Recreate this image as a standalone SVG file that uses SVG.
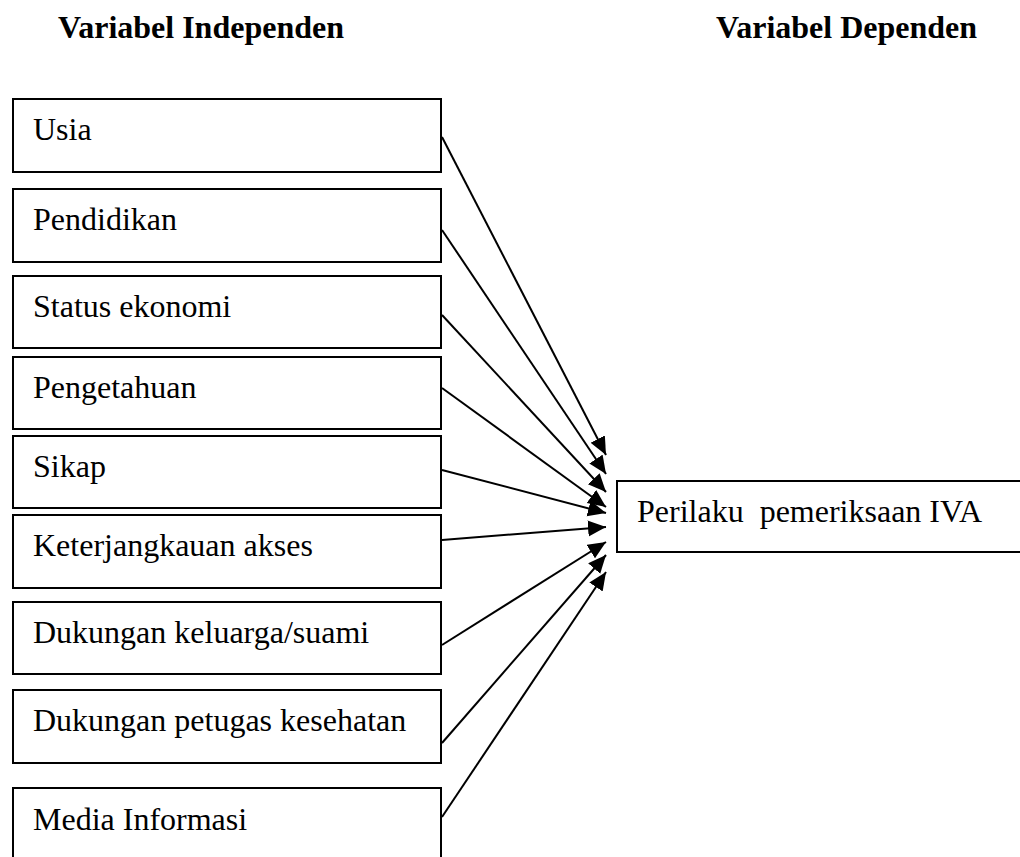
<svg xmlns="http://www.w3.org/2000/svg" width="1020" height="857" viewBox="0 0 1020 857">
<style>
.box{fill:#fff;stroke:#000;stroke-width:2}
.lbl{font-family:"Liberation Serif","Times New Roman",serif;font-size:32px;fill:#000}
.hdr{font-family:"Liberation Serif","Times New Roman",serif;font-size:32px;font-weight:bold;fill:#000}
.con{stroke:#000;stroke-width:2;fill:none;marker-end:url(#ah)}
</style>
<defs>
<marker id="ah" markerUnits="userSpaceOnUse" markerWidth="20" markerHeight="18" refX="18" refY="8" orient="auto">
<path d="M0,0 L18,8 L0,16 Z" fill="#000"/>
</marker>
</defs>
<rect width="1020" height="857" fill="#fff"/>
<text class="hdr" x="58" y="38">Variabel Independen</text>
<text class="hdr" x="716" y="38">Variabel Dependen</text>
<g id="n1"><rect class="box" x="13" y="99" width="428" height="73"/><text class="lbl" x="33" y="140">Usia</text></g>
<g id="n2"><rect class="box" x="13" y="189" width="428" height="73"/><text class="lbl" x="33" y="230">Pendidikan</text></g>
<g id="n3"><rect class="box" x="13" y="276" width="428" height="72"/><text class="lbl" x="33" y="317">Status ekonomi</text></g>
<g id="n4"><rect class="box" x="13" y="357" width="428" height="72"/><text class="lbl" x="33" y="398">Pengetahuan</text></g>
<g id="n5"><rect class="box" x="13" y="436" width="428" height="72"/><text class="lbl" x="33" y="477">Sikap</text></g>
<g id="n6"><rect class="box" x="13" y="515" width="428" height="73"/><text class="lbl" x="33" y="556">Keterjangkauan akses</text></g>
<g id="n7"><rect class="box" x="13" y="602" width="428" height="72"/><text class="lbl" x="33" y="643">Dukungan keluarga/suami</text></g>
<g id="n8"><rect class="box" x="13" y="690" width="428" height="73"/><text class="lbl" x="33" y="731">Dukungan petugas kesehatan</text></g>
<g id="n9"><rect class="box" x="13" y="788" width="428" height="90"/><text class="lbl" x="33" y="830">Media Informasi</text></g>
<g id="target"><rect class="box" x="617" y="481" width="420" height="71"/><text class="lbl" x="637" y="522" xml:space="preserve">Perilaku  pemeriksaan IVA</text></g>
<g id="connectors">
<line class="con" x1="442" y1="137" x2="606" y2="455"/>
<line class="con" x1="442" y1="230" x2="606" y2="474"/>
<line class="con" x1="442" y1="315" x2="606" y2="492"/>
<line class="con" x1="442" y1="388" x2="606" y2="507"/>
<line class="con" x1="442" y1="470" x2="606" y2="513"/>
<line class="con" x1="442" y1="540" x2="606" y2="527"/>
<line class="con" x1="442" y1="645" x2="606" y2="542"/>
<line class="con" x1="442" y1="743" x2="606" y2="555"/>
<line class="con" x1="442" y1="817" x2="606" y2="572"/>
</g>
</svg>
